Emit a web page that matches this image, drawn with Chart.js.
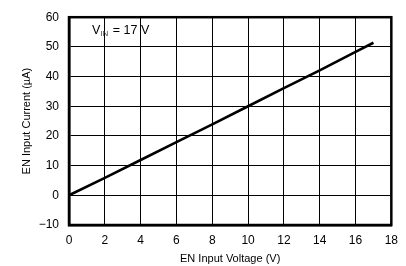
<!DOCTYPE html>
<html>
<head>
<meta charset="utf-8">
<script src="https://cdn.jsdelivr.net/npm/chart.js@4"></script>
<style>
  html, body { margin: 0; padding: 0; background: #fff; }
  #wrap { width: 406px; height: 266px; }
</style>
</head>
<body>
<div id="wrap"><canvas id="chart" width="406" height="266"></canvas></div>
<script>
// values
const voltage = [0, 2, 4, 6, 8, 10, 12, 14, 16, 17];
const current = [0, 5.9, 11.9, 17.9, 23.9, 30, 36.1, 42.1, 48.3, 51.4];
const xTicks = [0, 2, 4, 6, 8, 10, 12, 14, 16, 18];
const yTicks = [-10, 0, 10, 20, 30, 40, 50, 60];

const fontFamily = "'Liberation Sans', Arial, sans-serif";

// thick frame round the plot + the V_IN note
const framePlugin = {
  id: "frame",
  afterDraw(chart) {
    const { ctx, chartArea: a } = chart;
    ctx.save();
    ctx.strokeStyle = "#000";
    ctx.lineWidth = 2.5;
    ctx.strokeRect(a.left, a.top, a.right - a.left, a.bottom - a.top);

    ctx.fillStyle = "#000";
    ctx.textBaseline = "alphabetic";
    let x = a.left + 23, y = a.top + 17;
    ctx.font = "12.5px " + fontFamily;
    ctx.fillText("V", x, y);
    x += ctx.measureText("V").width;
    ctx.fillStyle = "#444";
    ctx.font = "8px " + fontFamily;
    ctx.fillText("IN", x, y + 2);
    x += ctx.measureText("IN").width + 1;
    ctx.fillStyle = "#000";
    ctx.font = "12.5px " + fontFamily;
    ctx.fillText(" = 17 V", x, y);
    ctx.restore();
  }
};

new Chart(document.getElementById("chart"), {
  type: "line",
  data: {
    datasets: [{
      data: voltage.map((v, i) => ({ x: v, y: current[i] })),
      borderColor: "#000",
      borderWidth: 2.6,
      pointRadius: 0,
      tension: 0,
      fill: false
    }]
  },
  options: {
    responsive: false,
    animation: false,
    layout: { padding: { top: 5, right: 13, left: 0, bottom: 0 } },
    plugins: { legend: { display: false }, tooltip: { enabled: false } },
    scales: {
      x: {
        type: "linear",
        min: 0, max: 18,
        afterBuildTicks: s => { s.ticks = xTicks.map(v => ({ value: v })); },
        afterFit: s => { s.height = 41; },
        grid: { color: "#000", lineWidth: 1, drawTicks: false },
        border: { color: "#000", width: 2.5 },
        ticks: { color: "#000", padding: 8, font: { family: fontFamily, size: 12 }, maxRotation: 0 },
        title: { display: true, text: "EN Input Voltage (V)", color: "#000", padding: { top: 2, bottom: 0 }, font: { family: fontFamily, size: 11 } }
      },
      y: {
        type: "linear",
        min: -10, max: 60,
        afterBuildTicks: s => { s.ticks = yTicks.map(v => ({ value: v })); },
        afterFit: s => { s.width = 69; },
        grid: { color: "#000", lineWidth: 1, drawTicks: false },
        border: { color: "#000", width: 2.5 },
        ticks: {
          color: "#000", padding: 10,
          font: { family: fontFamily, size: 12 },
          callback: v => String(v).replace("-", "\u2212")
        },
        title: { display: true, text: "EN Input Current (\u00b5A)", color: "#000", padding: { top: 20, bottom: 0 }, font: { family: fontFamily, size: 11 } }
      }
    }
  },
  plugins: [framePlugin]
});
</script>
</body>
</html>
